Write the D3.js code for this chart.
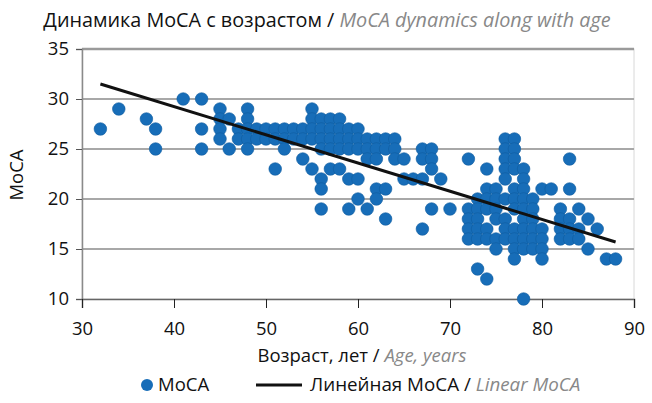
<!DOCTYPE html>
<html><head><meta charset="utf-8">
<script src="https://cdn.jsdelivr.net/npm/d3@7"></script>
<style>
body{margin:0;background:#fff;}
text{font-family:"Open Sans","Noto Sans",sans-serif;}
</style></head>
<body><svg id="c" width="652" height="403"></svg>
<script>
// ---- data ----
const ages = [32,34,37,38,38,41,43,43,43,
45,45,45,45,46,46,47,47,48,48,48,48,48,49,49,50,50,51,51,51,52,52,52,53,53,54,54,54,
55,55,55,55,55,56,56,56,56,56,56,56,57,57,57,57,57,58,58,58,58,58,
59,59,59,59,59,60,60,60,60,60,61,61,61,61,62,62,62,62,62,63,63,63,63,64,64,64,
65,65,66,67,67,67,67,68,68,68,68,69,70,
72,72,72,72,72,73,73,73,73,73,73,74,74,74,74,74,74,74,75,75,75,75,75,75,
76,76,76,76,76,76,76,76,76,77,77,77,77,77,77,77,77,77,77,77,
78,78,78,78,78,78,78,78,78,78,79,79,79,79,79,79,80,80,80,80,80,81,
82,82,82,82,83,83,83,83,83,84,84,84,85,85,86,87,88];
const moca = [27,29,28,27,25,30,30,27,25,
29,28,27,26,28,25,27,26,29,28,27,26,25,27,26,27,26,27,26,23,27,26,25,27,26,27,26,24,
29,28,27,26,23,28,27,26,25,22,21,19,28,27,26,25,23,28,27,26,25,23,
27,26,25,22,19,27,26,25,22,20,26,25,24,19,26,25,24,21,20,26,25,21,18,26,25,24,
24,22,22,25,24,22,17,25,24,23,19,22,19,
24,19,18,17,16,20,19,18,17,16,13,23,21,20,19,17,16,12,21,20,19,18,16,15,
26,25,24,23,22,20,18,17,16,26,25,24,23,21,20,19,17,16,15,14,
23,22,21,20,19,18,17,16,15,10,20,19,18,17,16,15,21,17,16,15,14,21,
19,18,17,16,24,21,18,17,16,19,17,16,18,15,17,14,14];
const trendAge = [32, 88];
const trendMoca = [31.5, 15.7];
const xTicks = [30,40,50,60,70,80,90];
const yTicks = [10,15,20,25,30,35];

// ---- drawing ----
const FS = 18.5;
const svg = d3.select("#c");
const x = d3.scaleLinear().domain([30,90]).range([82,634]);
const y = d3.scaleLinear().domain([10,35]).range([299,49]);

svg.append("rect").attr("x",x(30)).attr("y",y(35)).attr("width",x(90)-x(30)).attr("height",y(10)-y(35))
  .attr("fill","#fff").attr("stroke","#d8d8d8").attr("stroke-width",1);

svg.append("g").selectAll("line").data(yTicks.filter(d=>d>10)).join("line")
  .attr("x1",x(30)).attr("x2",x(90)).attr("y1",d=>y(d)).attr("y2",d=>y(d))
  .attr("stroke",d=>d===35?"#9a9a9a":"#a8a8a8").attr("stroke-width",d=>d===35?2.5:2);

const ya = svg.append("g").attr("transform",`translate(${x(30)},0)`)
  .call(d3.axisLeft(y).tickValues(yTicks).tickSize(6).tickPadding(7));
ya.select(".domain").attr("stroke","#8a8a8a").attr("stroke-width",1.5);
ya.selectAll(".tick line").attr("stroke","#555");
ya.selectAll(".tick text").attr("font-size",FS).attr("fill","#111").attr("font-family","'Open Sans',sans-serif");

const xa = svg.append("g").attr("transform",`translate(0,${y(10)})`)
  .call(d3.axisBottom(x).tickValues(xTicks).tickSize(9).tickPadding(14));
xa.select(".domain").attr("stroke","#666").attr("stroke-width",1.5);
xa.selectAll(".tick line").attr("stroke","#222");
xa.selectAll(".tick text").attr("font-size",FS).attr("fill","#111").attr("font-family","'Open Sans',sans-serif");

const pts = ages.map((a,i)=>({a, m: moca[i]}));
svg.append("g").selectAll("circle").data(pts).join("circle")
  .attr("cx",d=>x(d.a)).attr("cy",d=>y(d.m)).attr("r",6.3)
  .attr("fill","#176db8").attr("stroke","#0f5c9f").attr("stroke-width",0.6);

svg.append("line").attr("x1",x(trendAge[0])).attr("y1",y(trendMoca[0]))
  .attr("x2",x(trendAge[1])).attr("y2",y(trendMoca[1]))
  .attr("stroke","#111").attr("stroke-width",3);

const t = svg.append("text").attr("x",327).attr("y",27).attr("text-anchor","middle").attr("font-size",19.8);
t.append("tspan").attr("fill","#111").text("Динамика МоСА с возрастом / ");
t.append("tspan").attr("fill","#888").attr("font-style","italic").text("MoCA dynamics along with age");

const xt = svg.append("text").attr("x",362).attr("y",362).attr("text-anchor","middle").attr("font-size",FS);
xt.append("tspan").attr("fill","#111").text("Возраст, лет / ");
xt.append("tspan").attr("fill","#888").attr("font-style","italic").text("Age, years");

svg.append("text").attr("transform","translate(23,175) rotate(-90)").attr("text-anchor","middle")
  .attr("font-size",FS).attr("fill","#111").text("МоСА");

const lg = svg.append("g");
lg.append("circle").attr("cx",147).attr("cy",385).attr("r",6).attr("fill","#176db8");
lg.append("text").attr("x",158).attr("y",391).attr("font-size",FS).attr("fill","#111").text("МоСА");
lg.append("line").attr("x1",256).attr("x2",302).attr("y1",385).attr("y2",385).attr("stroke","#111").attr("stroke-width",3);
const lt = lg.append("text").attr("x",310).attr("y",391).attr("font-size",18.8);
lt.append("tspan").attr("fill","#111").text("Линейная МоСА / ");
lt.append("tspan").attr("fill","#888").attr("font-style","italic").text("Linear MoCA");
</script></body></html>
